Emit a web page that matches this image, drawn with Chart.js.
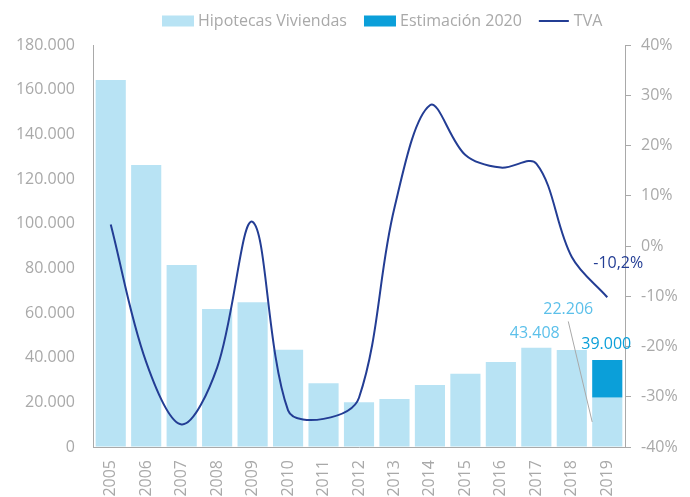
<!DOCTYPE html>
<html lang="es">
<head>
<meta charset="utf-8">
<title>Hipotecas sobre viviendas</title>
<script src="https://cdn.jsdelivr.net/npm/chart.js@4.4.1/dist/chart.umd.min.js"></script>
<style>
    html, body { margin: 0; padding: 0; background: #fff; }
    #grafico { display: block; }
</style>
</head>
<body>
<canvas id="grafico" width="690" height="497"></canvas>
<script>
    "use strict";

    // Datos
    var anios = ['2005', '2006', '2007', '2008', '2009', '2010', '2011', '2012',
                 '2013', '2014', '2015', '2016', '2017', '2018', '2019'];
    var hipotecas = [164300, 126300, 81500, 61800, 64800, 43600, 28500, 20000,
                     21500, 27800, 32800, 38100, 44400, 43408, 22206];
    var estimacion2020 = 39000;
    var tva = [4.3, -23.1, -35.5, -24.2, 4.8, -32.7, -34.4, -30.2,
               7.6, 28.0, 18.1, 15.6, 16.4, -2.2, -10.2];

    var GRIS = '#a9a9a9';
    var AZUL_CLARO = '#b8e3f4';
    var AZUL = '#0b9fd9';
    var AZUL_OSCURO = '#233d94';
    var AZUL_ETIQUETA = '#5cc0ea';
    var FUENTE = "'Open Sans', sans-serif";

    function miles(v) {
        return String(v).replace(/\B(?=(\d{3})+(?!\d))/g, '.');
    }

    function porcentaje(v) {
        return String(v).replace('.', ',') + '%';
    }

    // la estimación va encima del dato parcial del último año
    var tramoEstimacion = anios.map(function (a, i) {
        return i === anios.length - 1 ? [hipotecas[i], estimacion2020] : null;
    });

    // Leyenda dibujada a mano (va desplazada respecto al centro)
    var leyenda = {
        id: 'leyenda',
        afterDraw: function (chart) {
            var ctx = chart.ctx;
            var x = 162, y = 21;
            var items = [
                { texto: chart.data.datasets[0].label, color: AZUL_CLARO, tipo: 'caja' },
                { texto: chart.data.datasets[1].label, color: AZUL, tipo: 'caja' },
                { texto: chart.data.datasets[2].label, color: AZUL_OSCURO, tipo: 'linea' }
            ];

            ctx.save();
            ctx.font = '16px ' + FUENTE;
            ctx.textBaseline = 'middle';
            ctx.textAlign = 'left';
            items.forEach(function (it) {
                if (it.tipo === 'caja') {
                    ctx.fillStyle = it.color;
                    ctx.fillRect(x, y - 5.5, 32, 11);
                    x += 36;
                } else {
                    ctx.strokeStyle = it.color;
                    ctx.lineWidth = 2;
                    ctx.beginPath();
                    ctx.moveTo(x, y);
                    ctx.lineTo(x + 30, y);
                    ctx.stroke();
                    x += 35;
                }
                ctx.fillStyle = GRIS;
                ctx.fillText(it.texto, x, y);
                x += ctx.measureText(it.texto).width + 17;
            });
            ctx.restore();
        }
    };

    // Etiquetas de valores del final de la serie
    var etiquetas = {
        id: 'etiquetas',
        afterDatasetsDraw: function (chart) {
            var ctx = chart.ctx;
            var n = anios.length - 1;
            var barras = chart.getDatasetMeta(0).data;
            var est = chart.getDatasetMeta(1).data[n];
            var punto = chart.getDatasetMeta(2).data[n];

            ctx.save();
            ctx.font = '16px ' + FUENTE;
            ctx.textAlign = 'center';
            ctx.textBaseline = 'middle';

            var b18 = barras[n - 1];
            ctx.fillStyle = AZUL_ETIQUETA;
            ctx.fillText(miles(hipotecas[n - 1]), b18.x - 37, b18.y - 17);

            var b19 = barras[n];
            var tx = b19.x - 39, ty = b19.y - 88;
            ctx.fillText(miles(hipotecas[n]), tx, ty);
            ctx.strokeStyle = GRIS;
            ctx.lineWidth = 1;
            ctx.beginPath();
            ctx.moveTo(tx, ty + 12);
            ctx.lineTo(b19.x - b19.width / 2, (b19.y + b19.base) / 2);
            ctx.stroke();

            ctx.fillStyle = AZUL;
            ctx.fillText(miles(estimacion2020), est.x - 1, est.y - 15);

            ctx.fillStyle = AZUL_OSCURO;
            ctx.fillText(porcentaje(tva[n]), punto.x + 11, punto.y - 34);
            ctx.restore();
        }
    };

    var fuenteEjes = { family: FUENTE, size: 16 };

    new Chart(document.getElementById('grafico'), {
        data: {
            labels: anios,
            datasets: [{
                type: 'bar',
                label: 'Hipotecas Viviendas',
                data: hipotecas,
                backgroundColor: AZUL_CLARO,
                barPercentage: 0.85,
                categoryPercentage: 1,
                grouped: false,
                yAxisID: 'y',
                order: 2
            }, {
                type: 'bar',
                label: 'Estimación 2020',
                data: tramoEstimacion,
                backgroundColor: AZUL,
                barPercentage: 0.85,
                categoryPercentage: 1,
                grouped: false,
                yAxisID: 'y',
                order: 1
            }, {
                type: 'line',
                label: 'TVA',
                data: tva,
                borderColor: AZUL_OSCURO,
                borderWidth: 2,
                pointRadius: 0,
                tension: 0.35,
                fill: false,
                yAxisID: 'y1',
                order: 0
            }]
        },
        options: {
            responsive: false,
            animation: false,
            devicePixelRatio: 1,
            events: [],
            layout: { padding: { top: 45, left: 0, right: 0, bottom: 0 } },
            plugins: {
                legend: { display: false },
                tooltip: { enabled: false }
            },
            scales: {
                x: {
                    grid: { display: true, drawOnChartArea: false, drawTicks: false },
                    border: { color: GRIS, width: 1 },
                    ticks: { color: GRIS, font: fuenteEjes, minRotation: 90, maxRotation: 90, padding: 13 },
                    afterFit: function (s) { s.height = 50; }
                },
                y: {
                    position: 'left',
                    min: 0,
                    max: 180000,
                    grid: { display: true, drawOnChartArea: false, drawTicks: false },
                    border: { color: GRIS, width: 1 },
                    ticks: { stepSize: 20000, color: GRIS, font: fuenteEjes, padding: 18, callback: miles },
                    afterFit: function (s) { s.width = 93; }
                },
                y1: {
                    position: 'right',
                    min: -40,
                    max: 40,
                    grid: { display: true, drawOnChartArea: false, drawTicks: true, tickLength: 6, color: GRIS },
                    border: { color: GRIS, width: 1 },
                    ticks: { stepSize: 10, color: GRIS, font: fuenteEjes, padding: 10,
                             callback: function (v) { return v + '%'; } },
                    afterFit: function (s) { s.width = 65; }
                }
            }
        },
        plugins: [leyenda, etiquetas]
    });
</script>
</body>
</html>
